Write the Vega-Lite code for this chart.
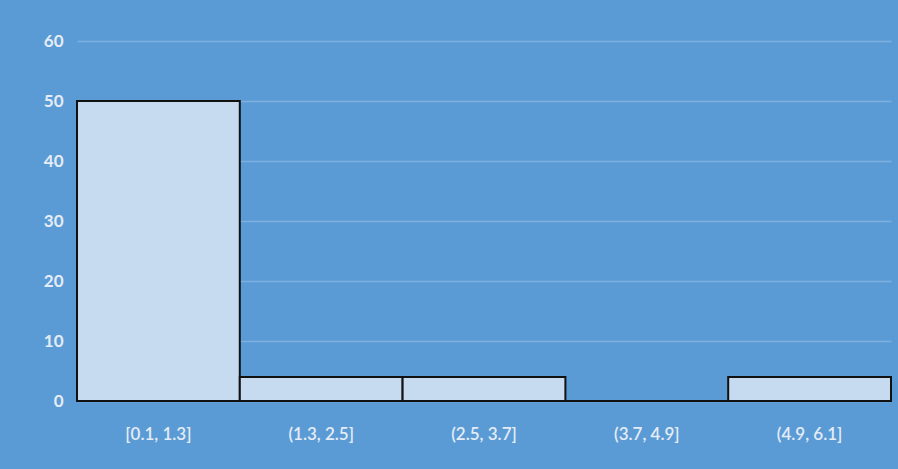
{
  "$schema": "https://vega.github.io/schema/vega-lite/v6.json",
  "width": 814,
  "height": 360,
  "autosize": {"type": "none"},
  "padding": {"left": 77, "top": 41, "right": 7, "bottom": 68},
  "background": "#5B9BD5",
  "config": {"view": {"stroke": null}, "font": "Lato"},
  "data": {
    "values": [
      {"bin": "[0.1, 1.3]", "count": 50},
      {"bin": "(1.3, 2.5]", "count": 4},
      {"bin": "(2.5, 3.7]", "count": 4},
      {"bin": "(3.7, 4.9]", "count": 0},
      {"bin": "(4.9, 6.1]", "count": 4}
    ]
  },
  "mark": {"type": "bar", "fill": "#C6DBEF", "stroke": "#111111", "strokeWidth": 2},
  "encoding": {
    "x": {
      "field": "bin",
      "type": "nominal",
      "sort": null,
      "scale": {"paddingInner": 0, "paddingOuter": 0},
      "axis": {
        "title": null,
        "labelAngle": 0,
        "domain": false,
        "ticks": false,
        "labelPadding": 25,
        "labelFontSize": 17,
        "labelFontWeight": 600,
        "labelColor": "#E4ECF6"
      }
    },
    "y": {
      "field": "count",
      "type": "quantitative",
      "scale": {"domain": [0, 60]},
      "axis": {
        "title": null,
        "values": [0, 10, 20, 30, 40, 50, 60],
        "domain": false,
        "ticks": false,
        "labelPadding": 14,
        "labelFontSize": 17,
        "labelFontWeight": "bold",
        "labelColor": "#E4ECF6",
        "gridColor": "#7DB0DF",
        "gridWidth": 1.5
      }
    }
  }
}
